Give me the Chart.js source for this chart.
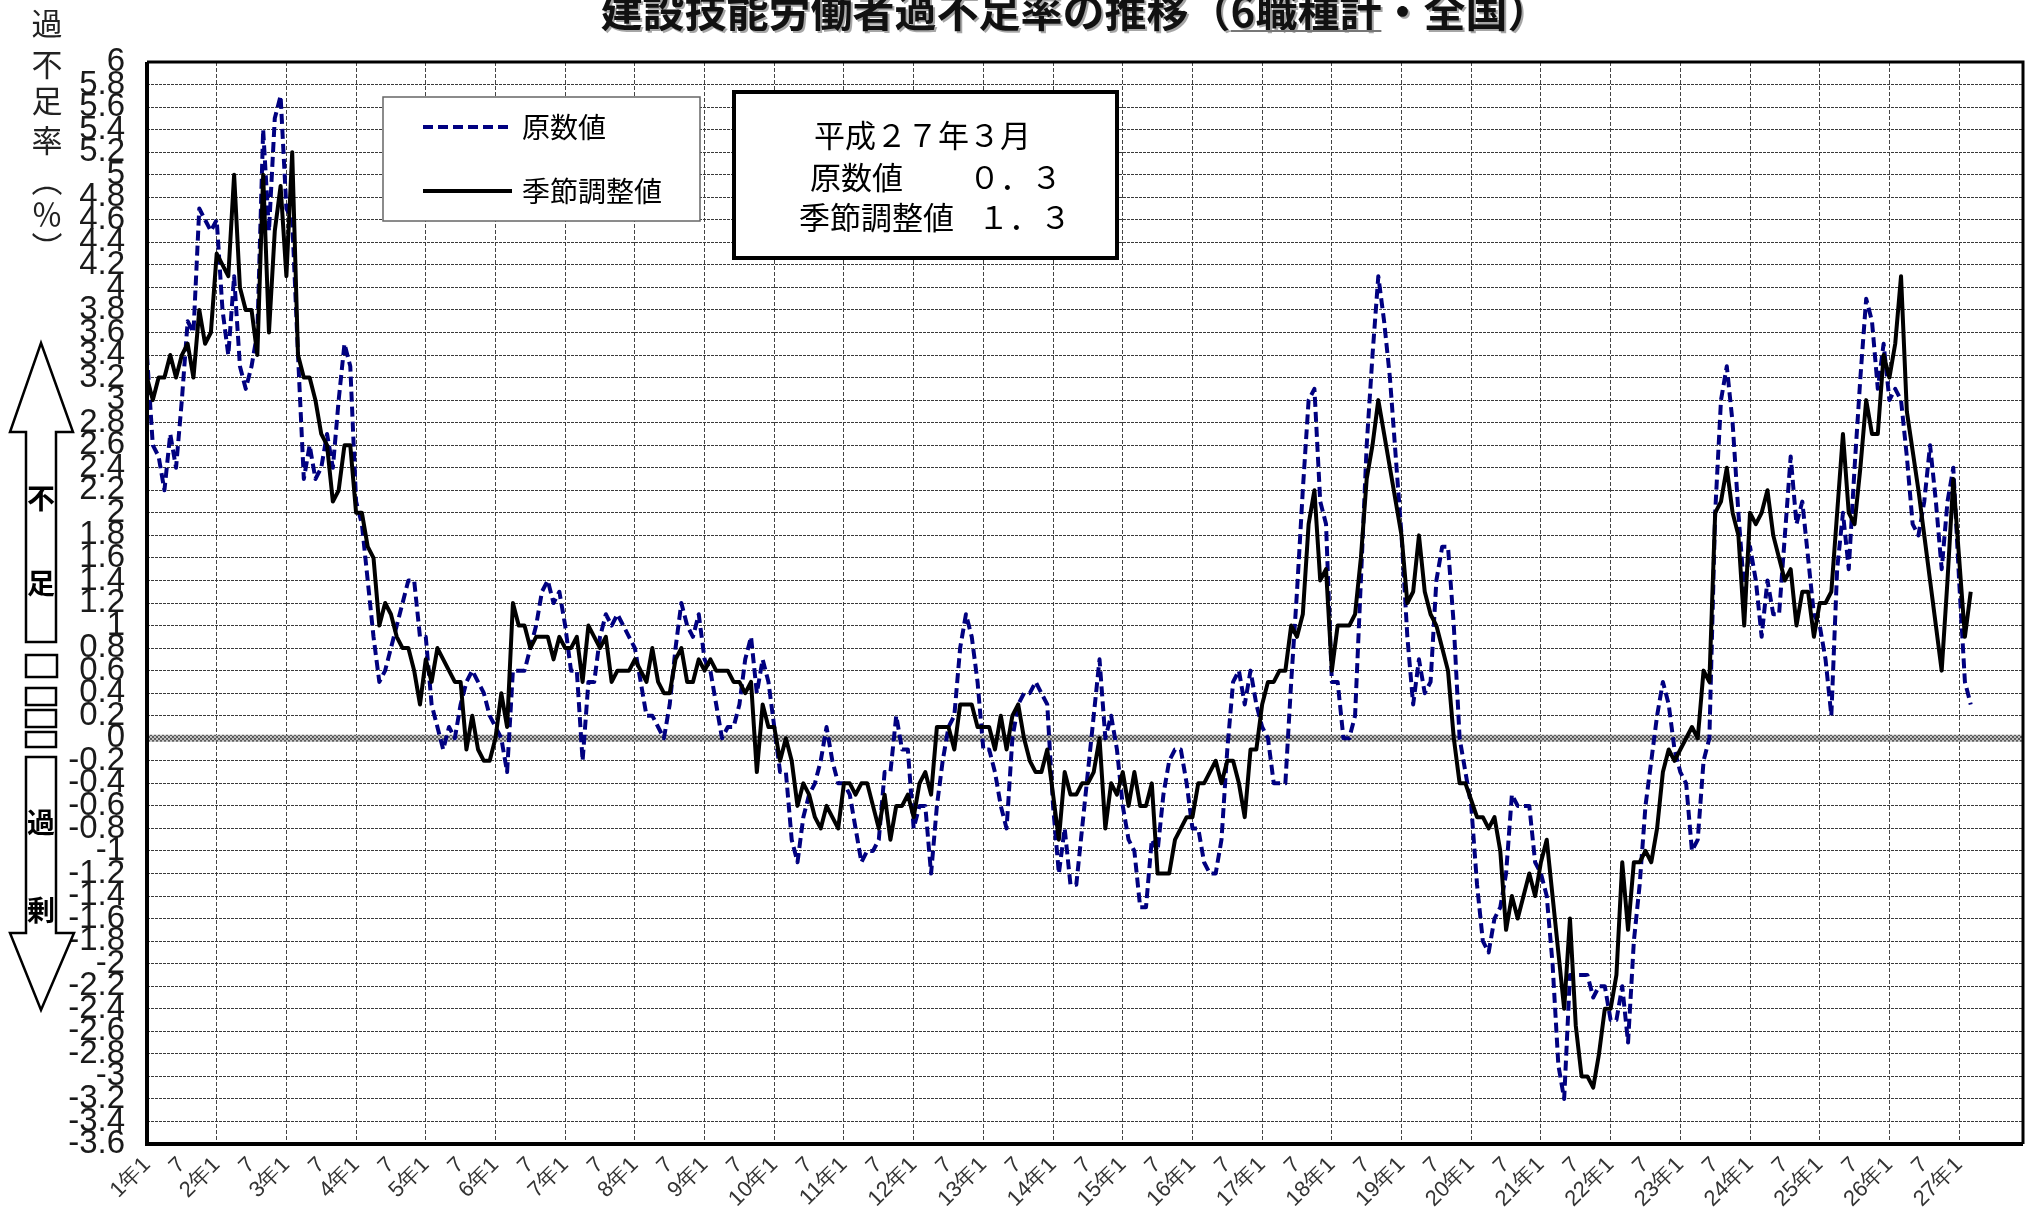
<!DOCTYPE html>
<html lang="ja">
<head>
<meta charset="utf-8">
<title>建設技能労働者過不足率の推移</title>
<script src="https://cdn.jsdelivr.net/npm/chart.js@4.4.1/dist/chart.umd.min.js"></script>
<style>
  html, body { margin: 0; padding: 0; background: #fff; }
  canvas { display: block; }
</style>
</head>
<body>
<canvas id="shortageChart" width="2030" height="1216"></canvas>
<script>
// 横軸ラベル（各年1月と7月）
const yearLabels = ['1年1', '2年1', '3年1', '4年1', '5年1', '6年1', '7年1', '8年1', '9年1',
    '10年1', '11年1', '12年1', '13年1', '14年1', '15年1', '16年1', '17年1', '18年1',
    '19年1', '20年1', '21年1', '22年1', '23年1', '24年1', '25年1', '26年1', '27年1'];
const julyLabel = '7';
const axisMonths = 324; // 平成1年1月〜27年12月の枠

// 原数値（平成1年1月〜27年3月）
const rawValues = [
    3.4, 2.6, 2.5, 2.2, 2.7, 2.4, 3.0, 3.7, 3.6, 4.7, 4.6, 4.5,
    4.6, 3.8, 3.4, 4.1, 3.3, 3.1, 3.3, 3.6, 5.4, 4.5, 5.5, 5.7,
    4.7, 4.6, 3.4, 2.3, 2.6, 2.3, 2.4, 2.7, 2.4, 3.0, 3.5, 3.3,
    2.1, 1.9, 1.4, 0.9, 0.5, 0.6, 0.8, 1.0, 1.2, 1.4, 1.4, 0.9,
    0.9, 0.3, 0.1, -0.1, 0.1, 0.0, 0.3, 0.5, 0.6, 0.5, 0.4, 0.2,
    0.1, 0.0, -0.3, 0.6, 0.6, 0.6, 0.8, 1.0, 1.3, 1.4, 1.2, 1.3,
    1.0, 0.6, 0.6, -0.2, 0.5, 0.5, 0.9, 1.1, 1.0, 1.1, 1.0, 0.9,
    0.8, 0.5, 0.2, 0.2, 0.1, 0.0, 0.3, 0.8, 1.2, 1.0, 0.9, 1.1,
    0.7, 0.6, 0.3, 0.0, 0.1, 0.1, 0.3, 0.7, 0.9, 0.4, 0.7, 0.5,
    0.1, -0.3, -0.3, -0.9, -1.1, -0.7, -0.5, -0.4, -0.2, 0.1, -0.2, -0.4,
    -0.4, -0.5, -0.8, -1.1, -1.0, -1.0, -0.9, -0.3, -0.3, 0.2, -0.1, -0.1,
    -0.8, -0.6, -0.6, -1.2, -0.6, -0.2, 0.1, 0.2, 0.8, 1.1, 0.9, 0.5,
    -0.1, -0.1, -0.3, -0.6, -0.8, 0.0, 0.3, 0.4, 0.4, 0.5, 0.4, 0.3,
    -0.6, -1.2, -0.8, -1.3, -1.3, -0.8, -0.3, 0.2, 0.7, 0.0, 0.2, -0.1,
    -0.6, -0.9, -1.0, -1.5, -1.5, -0.9, -1.0, -0.5, -0.2, -0.1, -0.1, -0.4,
    -0.8, -0.8, -1.1, -1.2, -1.2, -0.9, -0.1, 0.5, 0.6, 0.3, 0.6, 0.3,
    0.1, 0.0, -0.4, -0.4, -0.4, 0.5, 1.3, 2.2, 3.0, 3.1, 2.1, 1.9,
    0.5, 0.5, 0.0, 0.0, 0.2, 1.4, 2.6, 3.4, 4.1, 3.7, 3.2, 2.5,
    1.8, 0.9, 0.3, 0.7, 0.4, 0.5, 1.4, 1.7, 1.7, 1.0, 0.0, -0.3,
    -0.6, -1.3, -1.8, -1.9, -1.6, -1.5, -1.2, -0.5, -0.6, -0.6, -0.6, -1.1,
    -1.2, -1.4, -2.0, -2.9, -3.2, -2.1, -2.1, -2.1, -2.1, -2.3, -2.2, -2.2,
    -2.5, -2.5, -2.2, -2.7, -1.8, -1.3, -0.6, -0.2, 0.2, 0.5, 0.3, -0.1,
    -0.3, -0.4, -1.0, -0.9, -0.2, 0.0, 2.0, 3.0, 3.3, 2.8, 2.0, 1.3,
    1.7, 1.4, 0.9, 1.4, 1.1, 1.1, 1.8, 2.5, 1.9, 2.1, 1.6, 1.1,
    1.0, 0.7, 0.2, 1.5, 2.0, 1.5, 2.4, 3.2, 3.9, 3.7, 3.1, 3.5,
    3.0, 3.1, 3.0, 2.5, 1.9, 1.8, 2.1, 2.6, 2.1, 1.5, 2.1, 2.4,
    1.4, 0.5, 0.3
];

// 季節調整値
const adjustedValues = [
    3.2, 3.0, 3.2, 3.2, 3.4, 3.2, 3.4, 3.5, 3.2, 3.8, 3.5, 3.6,
    4.3, 4.2, 4.1, 5.0, 4.0, 3.8, 3.8, 3.4, 5.0, 3.6, 4.5, 4.9,
    4.1, 5.2, 3.4, 3.2, 3.2, 3.0, 2.7, 2.6, 2.1, 2.2, 2.6, 2.6,
    2.0, 2.0, 1.7, 1.6, 1.0, 1.2, 1.1, 0.9, 0.8, 0.8, 0.6, 0.3,
    0.7, 0.5, 0.8, 0.7, 0.6, 0.5, 0.5, -0.1, 0.2, -0.1, -0.2, -0.2,
    0.0, 0.4, 0.1, 1.2, 1.0, 1.0, 0.8, 0.9, 0.9, 0.9, 0.7, 0.9,
    0.8, 0.8, 0.9, 0.5, 1.0, 0.9, 0.8, 0.9, 0.5, 0.6, 0.6, 0.6,
    0.7, 0.6, 0.5, 0.8, 0.5, 0.4, 0.4, 0.7, 0.8, 0.5, 0.5, 0.7,
    0.6, 0.7, 0.6, 0.6, 0.6, 0.5, 0.5, 0.4, 0.5, -0.3, 0.3, 0.1,
    0.1, -0.2, 0.0, -0.2, -0.6, -0.4, -0.5, -0.7, -0.8, -0.6, -0.7, -0.8,
    -0.4, -0.4, -0.5, -0.4, -0.4, -0.6, -0.8, -0.5, -0.9, -0.6, -0.6, -0.5,
    -0.7, -0.4, -0.3, -0.5, 0.1, 0.1, 0.1, -0.1, 0.3, 0.3, 0.3, 0.1,
    0.1, 0.1, -0.1, 0.2, -0.1, 0.2, 0.3, 0.0, -0.2, -0.3, -0.3, -0.1,
    -0.5, -0.9, -0.3, -0.5, -0.5, -0.4, -0.4, -0.3, 0.0, -0.8, -0.4, -0.5,
    -0.3, -0.6, -0.3, -0.6, -0.6, -0.4, -1.2, -1.2, -1.2, -0.9, -0.8, -0.7,
    -0.7, -0.4, -0.4, -0.3, -0.2, -0.4, -0.2, -0.2, -0.4, -0.7, -0.1, -0.1,
    0.3, 0.5, 0.5, 0.6, 0.6, 1.0, 0.9, 1.1, 1.9, 2.2, 1.4, 1.5,
    0.6, 1.0, 1.0, 1.0, 1.1, 1.6, 2.3, 2.6, 3.0, 2.7, 2.4, 2.1,
    1.8, 1.2, 1.3, 1.8, 1.3, 1.1, 1.0, 0.8, 0.6, 0.0, -0.4, -0.4,
    -0.55, -0.7, -0.7, -0.8, -0.7, -1.0, -1.7, -1.4, -1.6, -1.4, -1.2, -1.4,
    -1.1, -0.9, -1.4, -1.9, -2.4, -1.6, -2.55, -3.0, -3.0, -3.1, -2.8, -2.4,
    -2.4, -2.1, -1.1, -1.7, -1.1, -1.1, -1.0, -1.1, -0.8, -0.3, -0.1, -0.2,
    -0.1, 0.0, 0.1, 0.0, 0.6, 0.5, 2.0, 2.1, 2.4, 2.0, 1.8, 1.0,
    2.0, 1.9, 2.0, 2.2, 1.8, 1.6, 1.4, 1.5, 1.0, 1.3, 1.3, 0.9,
    1.2, 1.2, 1.3, 2.0, 2.7, 2.0, 1.9, 2.4, 3.0, 2.7, 2.7, 3.4,
    3.2, 3.5, 4.1, 2.9, 2.55, 2.2, 1.8, 1.4, 1.0, 0.6, 1.4, 2.3,
    1.6, 0.9, 1.3
];

const yMin = -3.6;
const yMax = 6;
const yStep = 0.2;

const categories = [];
for (let i = 0; i < axisMonths; i++) {
    if (i >= rawValues.length) categories.push('');
    else if (i % 12 === 0) categories.push(yearLabels[i / 12]);
    else if (i % 12 === 6) categories.push(julyLabel);
    else categories.push('');
}

const jpFont = "'Noto Sans CJK JP', 'Noto Sans', sans-serif";
const numFont = "'Liberation Sans', Arial, sans-serif";

function zeroPattern(ctx) {
    const c = document.createElement('canvas');
    c.width = 4; c.height = 4;
    const p = c.getContext('2d');
    p.fillStyle = '#c4c4c4';
    p.fillRect(0, 0, 4, 4);
    p.fillStyle = '#5c5c5c';
    p.fillRect(0, 0, 2, 2);
    p.fillRect(2, 2, 2, 2);
    return ctx.createPattern(c, 'repeat');
}

function arrowUp(ctx) {
    ctx.beginPath();
    ctx.moveTo(41, 343);
    ctx.lineTo(73, 432);
    ctx.lineTo(56, 432);
    ctx.lineTo(56, 642);
    ctx.lineTo(26, 642);
    ctx.lineTo(26, 432);
    ctx.lineTo(10, 432);
    ctx.closePath();
    ctx.fill();
    ctx.stroke();
}

function arrowDown(ctx) {
    ctx.beginPath();
    ctx.moveTo(26, 757);
    ctx.lineTo(56, 757);
    ctx.lineTo(56, 933);
    ctx.lineTo(74, 933);
    ctx.lineTo(41, 1010);
    ctx.lineTo(10, 933);
    ctx.lineTo(26, 933);
    ctx.closePath();
    ctx.fill();
    ctx.stroke();
}

const decorPlugin = {
    id: 'decor',
    beforeDatasetsDraw(chart) {
        const { ctx, chartArea: a, scales: { y } } = chart;
        const y0 = y.getPixelForValue(0);
        ctx.save();
        ctx.fillStyle = zeroPattern(ctx);
        ctx.fillRect(a.left, y0 - 3.5, a.right - a.left, 7);
        ctx.restore();
    },
    afterDraw(chart) {
        const { ctx, chartArea: a } = chart;
        ctx.save();

        // 枠
        ctx.strokeStyle = '#000';
        ctx.lineWidth = 4;
        ctx.beginPath();
        ctx.moveTo(a.left, a.top);
        ctx.lineTo(a.left, a.bottom);
        ctx.lineTo(a.right, a.bottom);
        ctx.stroke();
        ctx.lineWidth = 3;
        ctx.beginPath();
        ctx.moveTo(a.left, a.top);
        ctx.lineTo(a.right, a.top);
        ctx.lineTo(a.right, a.bottom);
        ctx.stroke();

        // タイトル
        const head = '建設技能労働者過不足率の推移（';
        const mid = '6職種計';
        const tail = '・全国）';
        ctx.font = 'bold 42px ' + jpFont;
        ctx.textBaseline = 'alphabetic';
        ctx.textAlign = 'left';
        const wHead = ctx.measureText(head).width;
        const wMid = ctx.measureText(mid).width;
        const wAll = ctx.measureText(head + mid + tail).width;
        const tx = 1075 - wAll / 2;
        ctx.fillStyle = '#111';
        ctx.shadowColor = 'rgba(0,0,0,0.35)';
        ctx.shadowOffsetX = 2;
        ctx.shadowOffsetY = 2;
        ctx.fillText(head + mid + tail, tx, 27);
        ctx.shadowColor = 'transparent';
        ctx.strokeStyle = '#777';
        ctx.lineWidth = 2;
        ctx.beginPath();
        ctx.moveTo(tx + wHead, 31);
        ctx.lineTo(tx + wHead + wMid, 31);
        ctx.stroke();

        // 縦軸タイトル
        ctx.fillStyle = '#222';
        ctx.font = '31px ' + jpFont;
        ctx.textAlign = 'center';
        ctx.textBaseline = 'middle';
        [['過', 23], ['不', 64], ['足', 100], ['率', 140], ['︵', 180], ['％', 214], ['︶', 247]]
            .forEach(([ch, cy]) => ctx.fillText(ch, 47, cy));

        // 不足・過剰の矢印
        ctx.fillStyle = '#fff';
        ctx.strokeStyle = '#000';
        ctx.lineWidth = 2.5;
        arrowUp(ctx);
        arrowDown(ctx);
        [[26, 655, 31, 22], [26, 688, 30, 17], [26, 710, 30, 17], [26, 732, 30, 15]]
            .forEach(([x, y, w, h]) => ctx.strokeRect(x, y, w, h));
        ctx.fillStyle = '#000';
        ctx.font = 'bold 28px ' + jpFont;
        [['不', 498], ['足', 583], ['過', 822], ['剰', 910]]
            .forEach(([ch, cy]) => ctx.fillText(ch, 41, cy));

        // 凡例
        ctx.fillStyle = '#fff';
        ctx.fillRect(383, 97, 317, 124);
        ctx.strokeStyle = '#666';
        ctx.lineWidth = 1.5;
        ctx.strokeRect(383, 97, 317, 124);
        ctx.lineWidth = 4;
        ctx.strokeStyle = '#000080';
        ctx.setLineDash([10, 5]);
        ctx.beginPath();
        ctx.moveTo(423, 127);
        ctx.lineTo(512, 127);
        ctx.stroke();
        ctx.setLineDash([]);
        ctx.strokeStyle = '#000';
        ctx.lineWidth = 4;
        ctx.beginPath();
        ctx.moveTo(423, 191);
        ctx.lineTo(512, 191);
        ctx.stroke();
        ctx.fillStyle = '#000';
        ctx.font = '28px ' + jpFont;
        ctx.textAlign = 'left';
        ctx.fillText('原数値', 522, 127);
        ctx.fillText('季節調整値', 522, 191);

        // 最新値の枠
        ctx.fillStyle = '#fff';
        ctx.fillRect(734, 92, 383, 166);
        ctx.strokeStyle = '#000';
        ctx.lineWidth = 4;
        ctx.strokeRect(734, 92, 383, 166);
        ctx.fillStyle = '#000';
        ctx.font = '31px ' + jpFont;
        ctx.fillText('平成２７年３月', 814, 135);
        ctx.fillText('原数値', 810, 177);
        ctx.fillText('０．３', 969, 177);
        ctx.fillText('季節調整値', 799, 217);
        ctx.fillText('１．３', 978, 217);

        ctx.restore();
    }
};

new Chart(document.getElementById('shortageChart').getContext('2d'), {
    type: 'line',
    data: {
        labels: categories,
        datasets: [{
            label: '季節調整値',
            data: adjustedValues,
            borderColor: '#000',
            borderWidth: 4,
            borderJoinStyle: 'round',
            pointRadius: 0,
            tension: 0,
            fill: false
        }, {
            label: '原数値',
            data: rawValues,
            borderColor: '#000080',
            borderWidth: 4,
            borderDash: [10, 5],
            borderJoinStyle: 'round',
            pointRadius: 0,
            tension: 0,
            fill: false
        }]
    },
    options: {
        responsive: false,
        animation: false,
        layout: { padding: { top: 62, right: 7, left: 0, bottom: 0 } },
        plugins: {
            legend: { display: false },
            tooltip: { enabled: false }
        },
        scales: {
            x: {
                type: 'category',
                offset: false,
                afterFit: s => {
                    s.height = 72;
                    s.paddingLeft = 0;
                    s.paddingRight = 0;
                },
                grid: {
                    drawTicks: false,
                    lineWidth: 1,
                    color: c => (c.index % 12 === 0 && c.index > 0) ? '#444' : 'transparent'
                },
                border: { display: false, dash: [4, 2] },
                ticks: {
                    autoSkip: false,
                    minRotation: 45,
                    maxRotation: 45,
                    padding: 8,
                    color: '#333',
                    font: { family: numFont, size: 22 }
                }
            },
            y: {
                min: yMin,
                max: yMax,
                afterFit: s => {
                    s.width = 147;
                    s.paddingTop = 0;
                    s.paddingBottom = 0;
                },
                grid: {
                    drawTicks: false,
                    lineWidth: 1,
                    color: c => {
                        const v = Math.round(c.tick.value * 10) / 10;
                        return (v === 0 || v === yMin || v === yMax) ? 'transparent' : '#3a3a3a';
                    }
                },
                border: { display: false, dash: [3, 1] },
                ticks: {
                    stepSize: yStep,
                    maxTicksLimit: 100,
                    autoSkip: false,
                    padding: 22,
                    color: '#1a1a1a',
                    font: { family: numFont, size: 33 },
                    callback: v => String(Math.round(v * 10) / 10)
                }
            }
        }
    },
    plugins: [decorPlugin]
});
</script>
</body>
</html>
